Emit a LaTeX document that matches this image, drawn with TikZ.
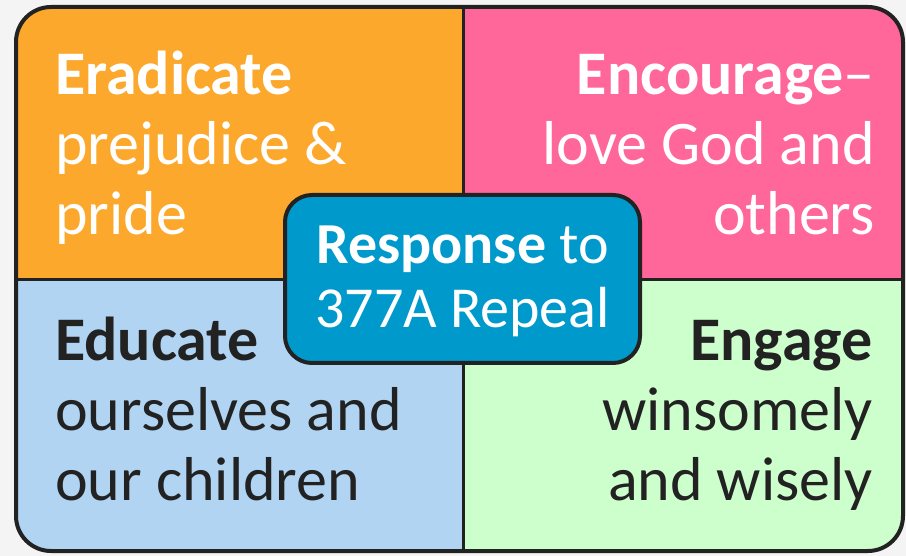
\documentclass[tikz,border=0pt]{standalone}
\usepackage{fontspec}
\setmainfont{Carlito}
\definecolor{bggray}{HTML}{F4F4F4}
\definecolor{qorange}{HTML}{FCA82C}
\definecolor{qpink}{HTML}{FF6699}
\definecolor{qblue}{HTML}{B0D4F2}
\definecolor{qgreen}{HTML}{CCFFCC}
\definecolor{cblue}{HTML}{0099CC}
\definecolor{ink}{HTML}{222222}
\tikzset{
  qtext/.style={inner sep=0pt, font=\fontsize{62}{70}\selectfont},
  lefttext/.style={qtext, align=left, anchor=base west},
  righttext/.style={qtext, align=right, anchor=base east},
  centerbox/.style={draw=ink, line width=4pt, fill=cblue, rounded corners=27pt,
    minimum width=355pt, minimum height=168pt, text=white, align=center,
    font=\fontsize{58}{65}\selectfont, inner sep=0pt},
}
\begin{document}
\begin{tikzpicture}[x=1pt,y=-1pt]
\useasboundingbox (0,0) rectangle (906,556);
\fill[bggray] (0,0) rectangle (906,556);
\begin{scope}
  \clip[rounded corners=35pt] (16,7) rectangle (903,551);
  \fill[qorange] (16,7) rectangle (463,280);
  \fill[qpink] (463,7) rectangle (903,280);
  \fill[qblue] (16,280) rectangle (463,551);
  \fill[qgreen] (463,280) rectangle (903,551);
\end{scope}
\draw[ink, line width=3pt] (463,7) -- (463,551);
\draw[ink, line width=3pt] (16,280) -- (903,280);
\draw[ink, line width=4pt, rounded corners=35pt] (16,7) rectangle (903,551);

\node[lefttext, text=white] (erad) at (55,235) {\textbf{Eradicate}\\prejudice \&\\pride};
\node[righttext, text=white] (enc) at (875,235) {\textbf{Encourage}–\\love God and\\others};
\node[lefttext, text=ink] (edu) at (55,500) {\textbf{Educate}\\ourselves and\\our children};
\node[righttext, text=ink] (eng) at (873,500) {\textbf{Engage}\\winsomely\\and wisely};

\node[centerbox] (resp) at (462.5,279) {};
\node[text=white, align=center, inner sep=0pt, anchor=base,
  font=\fontsize{58}{65}\selectfont] (resptext) at (462.5,328) {\textbf{Response} to\\377A Repeal};
\end{tikzpicture}
\end{document}
